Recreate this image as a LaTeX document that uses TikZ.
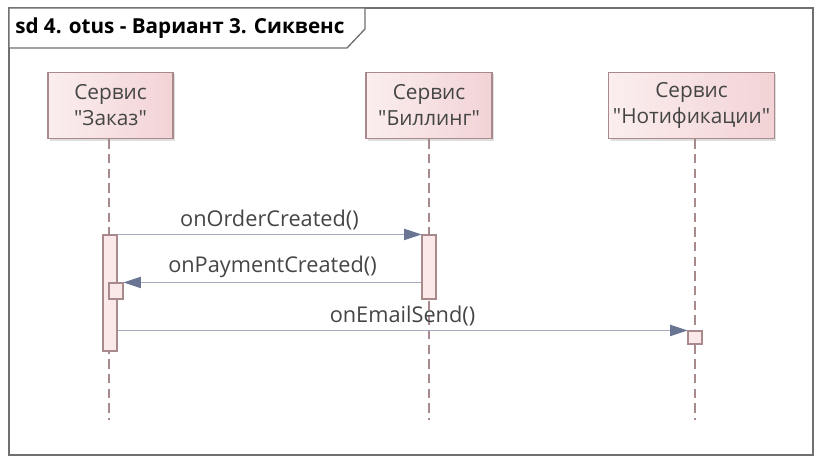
\documentclass[tikz,border=0pt]{standalone}
\usepackage{fontspec}
\setmainfont{Open Sans}[Ligatures=TeXOff]
\usepackage{xcolor}
\usetikzlibrary{arrows.meta, positioning, calc, shadows}

\definecolor{boxleft}{HTML}{FBEEEE}
\definecolor{boxright}{HTML}{F2D3D6}
\definecolor{boxline}{HTML}{A88A8C}
\definecolor{actfill}{HTML}{FBE8E8}
\definecolor{msgline}{HTML}{A3ABBD}
\definecolor{msghead}{HTML}{6A7593}
\definecolor{txtgray}{HTML}{454545}
\definecolor{framegray}{HTML}{707070}

\tikzset{
  lifebox/.style={draw=boxline, left color=boxleft, right color=boxright, line width=0.8pt,
    minimum height=50pt, align=center, text=txtgray, font=\fontsize{15.6}{19.5}\selectfont,
    drop shadow={shadow xshift=1.5pt, shadow yshift=-1.5pt, fill=black!25}},
  lifeline/.style={boxline, line width=0.8pt, dash pattern=on 7pt off 4pt},
  actbox/.style={draw=boxline, fill=actfill, line width=0.8pt, inner sep=0pt, minimum width=10.5pt},
  msg/.style={msgline, line width=0.8pt, -{Triangle[length=13pt, width=8.5pt, fill=msghead, color=msghead]}},
  msglabel/.style={text=txtgray, font=\fontsize{16.3}{19}\selectfont, inner sep=2pt}
}

\begin{document}
\begin{tikzpicture}[x=0.75pt, y=-0.75pt]
\useasboundingbox (0,0) rectangle (821,463);

% Frame and title tab
\draw[framegray, line width=1pt] (9,8) rectangle (813,455);
\draw[framegray, line width=1pt, fill=white] (9,8) -- (365,8) -- (365,29) -- (347,48) -- (9,48) -- cycle;
\node[anchor=west, inner sep=0pt, font=\fontsize{15.5}{18}\selectfont\bfseries] (title) at (15,28) {sd 4. otus - Вариант 3. Сиквенс};

% Lifeline heads
\node[lifebox, minimum width=93.75pt] (order) at (110.5,105.5) {Сервис\\"Заказ"};
\node[lifebox, minimum width=94.5pt] (billing) at (429,105.5) {Сервис\\"Биллинг"};
\node[lifebox, minimum width=119.25pt] (notify) at (691.5,105.5) {Сервис\\"Нотификации"};

% Lifelines
\coordinate (orderEnd) at (109,420);
\coordinate (billingEnd) at (429,420);
\coordinate (notifyEnd) at (695,420);
\draw[lifeline] (order.south -| orderEnd) -- (orderEnd);
\draw[lifeline] (billing.south) -- (billingEnd);
\draw[lifeline] (notify.south -| notifyEnd) -- (notifyEnd);

% Activations
\node[actbox, minimum height=87pt] (orderAct) at (110,293) {};
\node[actbox, minimum height=48pt] (billingAct) at (429,267) {};
\node[actbox, minimum height=12pt] (orderSelf) at (116,291) {};
\node[actbox, minimum height=9.75pt] (notifyAct) at (695,337.5) {};

% Messages
\draw[msg] (orderAct.north east) -- (billingAct.north west) node[msglabel, midway, above=1pt] {onOrderCreated()};
\draw[msg] (billingAct.west |- orderSelf.north) -- (orderSelf.north east) node[msglabel, midway, above=1pt] {onPaymentCreated()};
\draw[msg] (orderAct.east |- notifyAct.north) -- (notifyAct.north west) node[msglabel, midway, above=1pt] {onEmailSend()};
\end{tikzpicture}
\end{document}
